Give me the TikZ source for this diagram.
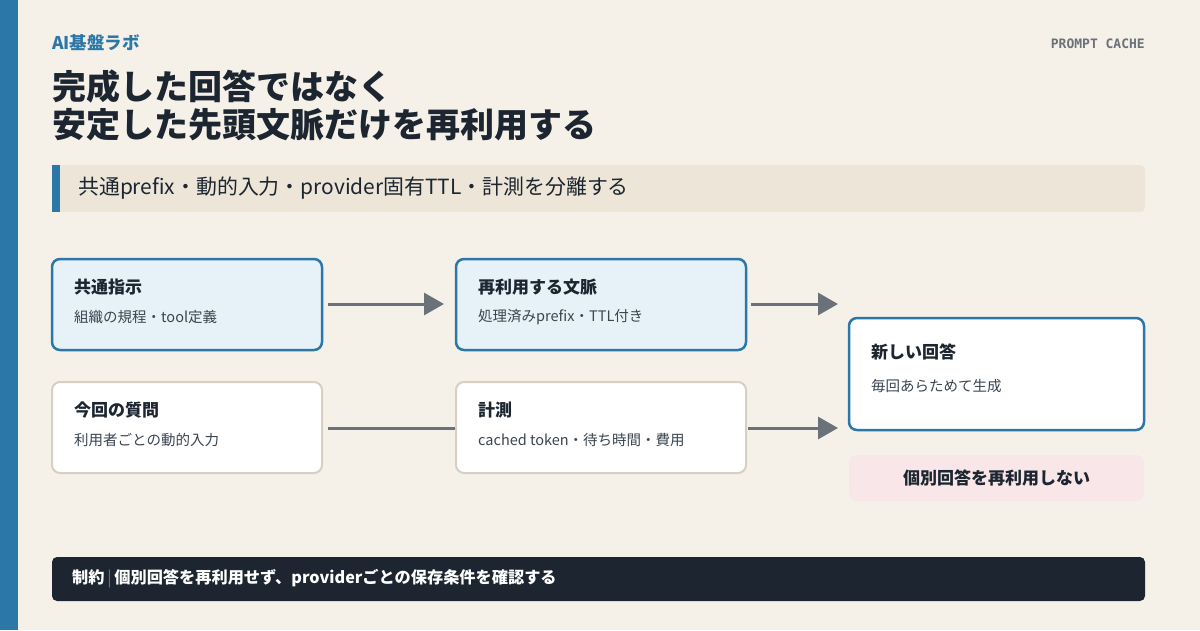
\documentclass[tikz,border=0pt]{standalone}
\usepackage{fontspec}
\setmainfont{Noto Sans CJK JP}
\newfontfamily\monofont{DejaVu Sans Mono}
\usetikzlibrary{arrows.meta,positioning}
\definecolor{bgc}{HTML}{F5F1E8}
\definecolor{labblue}{HTML}{2A77A8}
\definecolor{ink}{HTML}{1C2530}
\definecolor{bandc}{HTML}{ECE5D8}
\definecolor{paleblue}{HTML}{E7F1F8}
\definecolor{edgec}{HTML}{D6D0C3}
\definecolor{arrowc}{HTML}{6B7178}
\definecolor{pinkc}{HTML}{F8E6E8}
\definecolor{subc}{HTML}{3A4550}
\tikzset{
  stage/.style={draw=labblue, line width=2.5pt, fill=paleblue, rounded corners=8pt},
  plain/.style={draw=edgec, line width=2pt, fill=white, rounded corners=8pt},
  head/.style={anchor=west, font=\fontsize{17}{19}\selectfont\bfseries, text=ink},
  sub/.style={anchor=west, font=\fontsize{14.5}{16}\selectfont, text=subc},
  flow/.style={draw=arrowc, line width=3pt, -{Triangle[length=20pt,width=22pt]}},
}
\begin{document}
\begin{tikzpicture}[x=1pt,y=-1pt]
  \fill[bgc] (0,0) rectangle (1200,630);
  \useasboundingbox (0,0) rectangle (1200,630);
  \fill[labblue] (0,0) rectangle (18,630);

  % header
  \node[anchor=west, inner sep=0pt, text=labblue, font=\fontsize{17.5}{19}\selectfont\bfseries] (brand) at (52,43) {AI基盤ラボ};
  \node[anchor=east, inner sep=0pt, text=arrowc, font=\fontsize{13}{15}\selectfont\monofont\bfseries] (tag) at (1145,44) {PROMPT CACHE};
  \node[anchor=north west, align=left, text=ink, inner sep=0pt,
        font=\fontsize{34}{38}\selectfont\bfseries] (title) at (52,70) {完成した回答ではなく\\安定した先頭文脈だけを再利用する};

  % lead band
  \fill[bandc, rounded corners=5pt] (52,165) rectangle (1145,212);
  \fill[labblue] (52,165) rectangle (60,212);
  \node[anchor=west, inner sep=0pt, text=ink, font=\fontsize{20.9}{22}\selectfont] (lead) at (78,188) {共通prefix・動的入力・provider固有TTL・計測を分離する};

  % boxes
  \draw[stage] (52,259) rectangle (322,350);
  \node[head, inner sep=0pt] (shared) at (74,287) {共通指示};
  \node[sub, inner sep=0pt] at (74,317) {組織の規程・tool定義};
  \draw[stage] (456,259) rectangle (746,350);
  \node[head, inner sep=0pt] (reuse) at (478,287) {再利用する文脈};
  \node[sub, inner sep=0pt] at (478,317) {処理済みprefix・TTL付き};
  \draw[plain] (52,382) rectangle (322,473);
  \node[head, inner sep=0pt] (query) at (74,410) {今回の質問};
  \node[sub, inner sep=0pt] at (74,440) {利用者ごとの動的入力};
  \draw[plain] (456,382) rectangle (746,473);
  \node[head, inner sep=0pt] (measure) at (478,410) {計測};
  \node[sub, inner sep=0pt] at (478,440) {cached token・待ち時間・費用};
  \draw[stage, fill=white] (849,318) rectangle (1144,430);
  \node[head, inner sep=0pt] (answer) at (871,352) {新しい回答};
  \node[sub, inner sep=0pt] at (871,386) {毎回あらためて生成};
  \fill[pinkc, rounded corners=8pt] (849,455) rectangle (1144,501);
  \node[text=ink, font=\fontsize{17}{19}\selectfont\bfseries] (noreuse) at (996.5,478) {個別回答を再利用しない};

  % connectors
  \coordinate (a1) at (328,304); \coordinate (a2) at (444,304);
  \coordinate (b1) at (751,304); \coordinate (b2) at (838,304);
  \coordinate (c1) at (328,428); \coordinate (c2) at (455,428);
  \coordinate (d1) at (748,428); \coordinate (d2) at (838,428);
  \draw[flow] (a1) -- (a2);
  \draw[flow] (b1) -- (b2);
  \draw[draw=arrowc, line width=3pt] (c1) -- (c2);
  \draw[flow] (d1) -- (d2);

  % footer
  \fill[ink, rounded corners=5pt] (52,557) rectangle (1145,601);
  \node[anchor=west, inner sep=0pt, text=white, font=\fontsize{16.2}{17}\selectfont] (note) at (72,579)
    {\textbf{制約}\,{\color{arrowc}|}\,\textbf{個別回答を再利用せず、providerごとの保存条件を確認する}};
\end{tikzpicture}
\end{document}
